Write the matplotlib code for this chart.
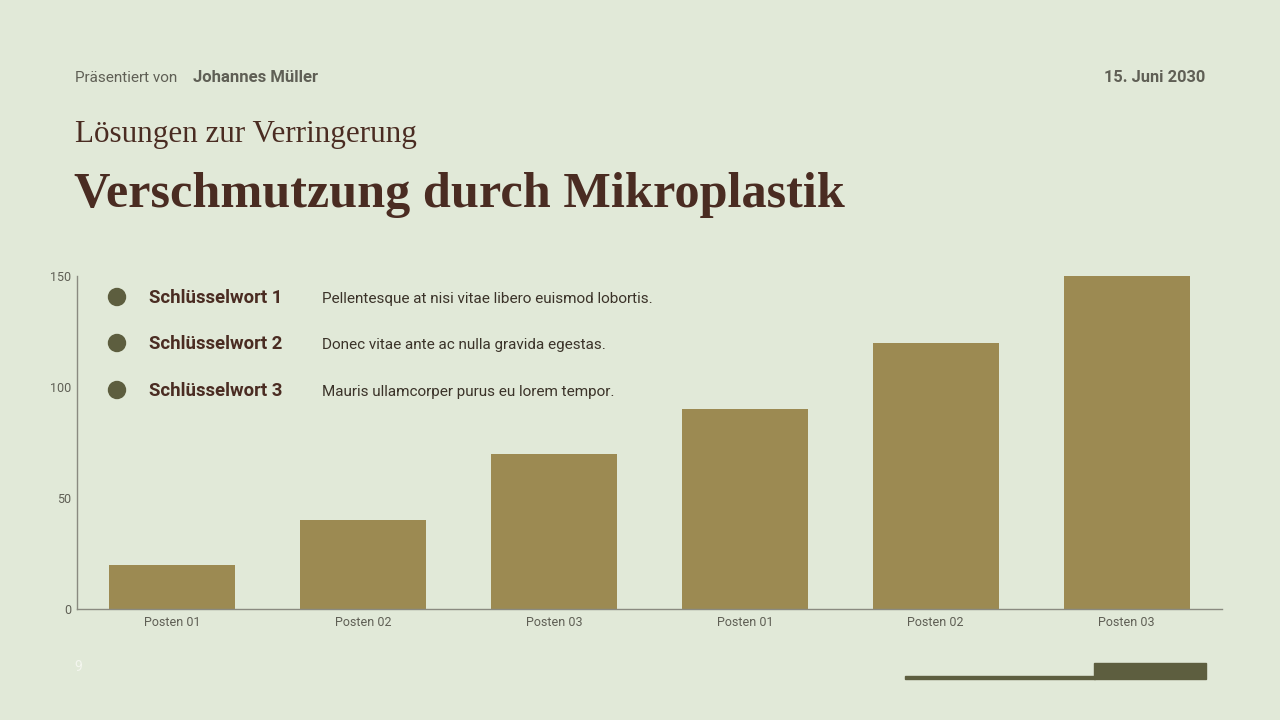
import matplotlib.pyplot as plt
from matplotlib.patches import Ellipse, Rectangle

# chart data
categories = ['Posten 01', 'Posten 02', 'Posten 03', 'Posten 01', 'Posten 02', 'Posten 03']
values = [20, 40, 70, 90, 120, 150]
y_ticks = [0, 50, 100, 150]

keywords = ['Schlüsselwort 1', 'Schlüsselwort 2', 'Schlüsselwort 3']
descriptions = ['Pellentesque at nisi vitae libero euismod lobortis.',
                'Donec vitae ante ac nulla gravida egestas.',
                'Mauris ullamcorper purus eu lorem tempor.']

# colours
bg = '#e1e9d8'
bar_color = '#9c8a52'
dark_olive = '#5d5e3f'
brown = '#4a2c22'
grey = '#5f5f55'

W, H = 1280, 720
fig = plt.figure(figsize=(12.8, 7.2), dpi=100, facecolor=bg)

def fx(px):
    return px / W

def fy(py):
    return 1 - py / H

# header
fig.text(fx(75), fy(78), 'Präsentiert von', fontsize=11, color=grey,
         family='Roboto', va='center')
fig.text(fx(193), fy(78), 'Johannes Müller', fontsize=12, color=grey,
         family='Roboto', weight='bold', va='center')
fig.text(fx(1205), fy(78), '15. Juni 2030', fontsize=11.8, color=grey,
         family='Roboto', weight='bold', va='center', ha='right')

# titles
fig.text(fx(75), fy(142), 'Lösungen zur Verringerung', fontsize=22.4, color=brown,
         family='Liberation Serif', va='baseline')
fig.text(fx(74), fy(207), 'Verschmutzung durch Mikroplastik', fontsize=36.2, color=brown,
         family='Liberation Serif', weight='bold', va='baseline')

# bar chart
ax = fig.add_axes([fx(77), fy(609), fx(1222) - fx(77), fy(276) - fy(609)])
ax.set_facecolor('none')
x = list(range(len(values)))
ax.bar(x, values, width=0.66, color=bar_color)
ax.set_xlim(-0.5, len(values) - 0.5)
ax.set_ylim(0, 150)
ax.set_xticks(x)
ax.set_xticklabels(categories)
ax.set_yticks(y_ticks)
ax.tick_params(length=0, labelsize=9, labelcolor=grey)
ax.tick_params(axis='x', pad=5)
ax.tick_params(axis='y', pad=4)
for lab in ax.get_xticklabels() + ax.get_yticklabels():
    lab.set_family('Roboto')
for s in ['top', 'right']:
    ax.spines[s].set_visible(False)
for s in ['left', 'bottom']:
    ax.spines[s].set_color('#8a8a80')
    ax.spines[s].set_linewidth(1)

# keyword list
row_y = [297, 343, 390]
for yy, kw, desc in zip(row_y, keywords, descriptions):
    fig.patches.append(Ellipse((fx(117), fy(yy)), 17 / W, 17 / H, transform=fig.transFigure,
                               color=dark_olive, zorder=5))
    fig.text(fx(149), fy(yy + 1), kw, fontsize=13.3, color=brown, family='Roboto',
             weight='bold', va='center')
    fig.text(fx(322), fy(yy + 2), desc, fontsize=11, color='#3b3329',
             family='Roboto', va='center')

# footer
fig.text(fx(74), fy(667), '9', fontsize=10, color='#f4f6ef', family='Roboto', va='center')
fig.patches.append(Rectangle((fx(905), fy(679)), fx(1095) - fx(905), 3 / H,
                             transform=fig.transFigure, color=dark_olive))
fig.patches.append(Rectangle((fx(1094), fy(679)), fx(1206) - fx(1094), 16 / H,
                             transform=fig.transFigure, color=dark_olive))

fig.savefig('out.png', dpi=100, facecolor=bg)
